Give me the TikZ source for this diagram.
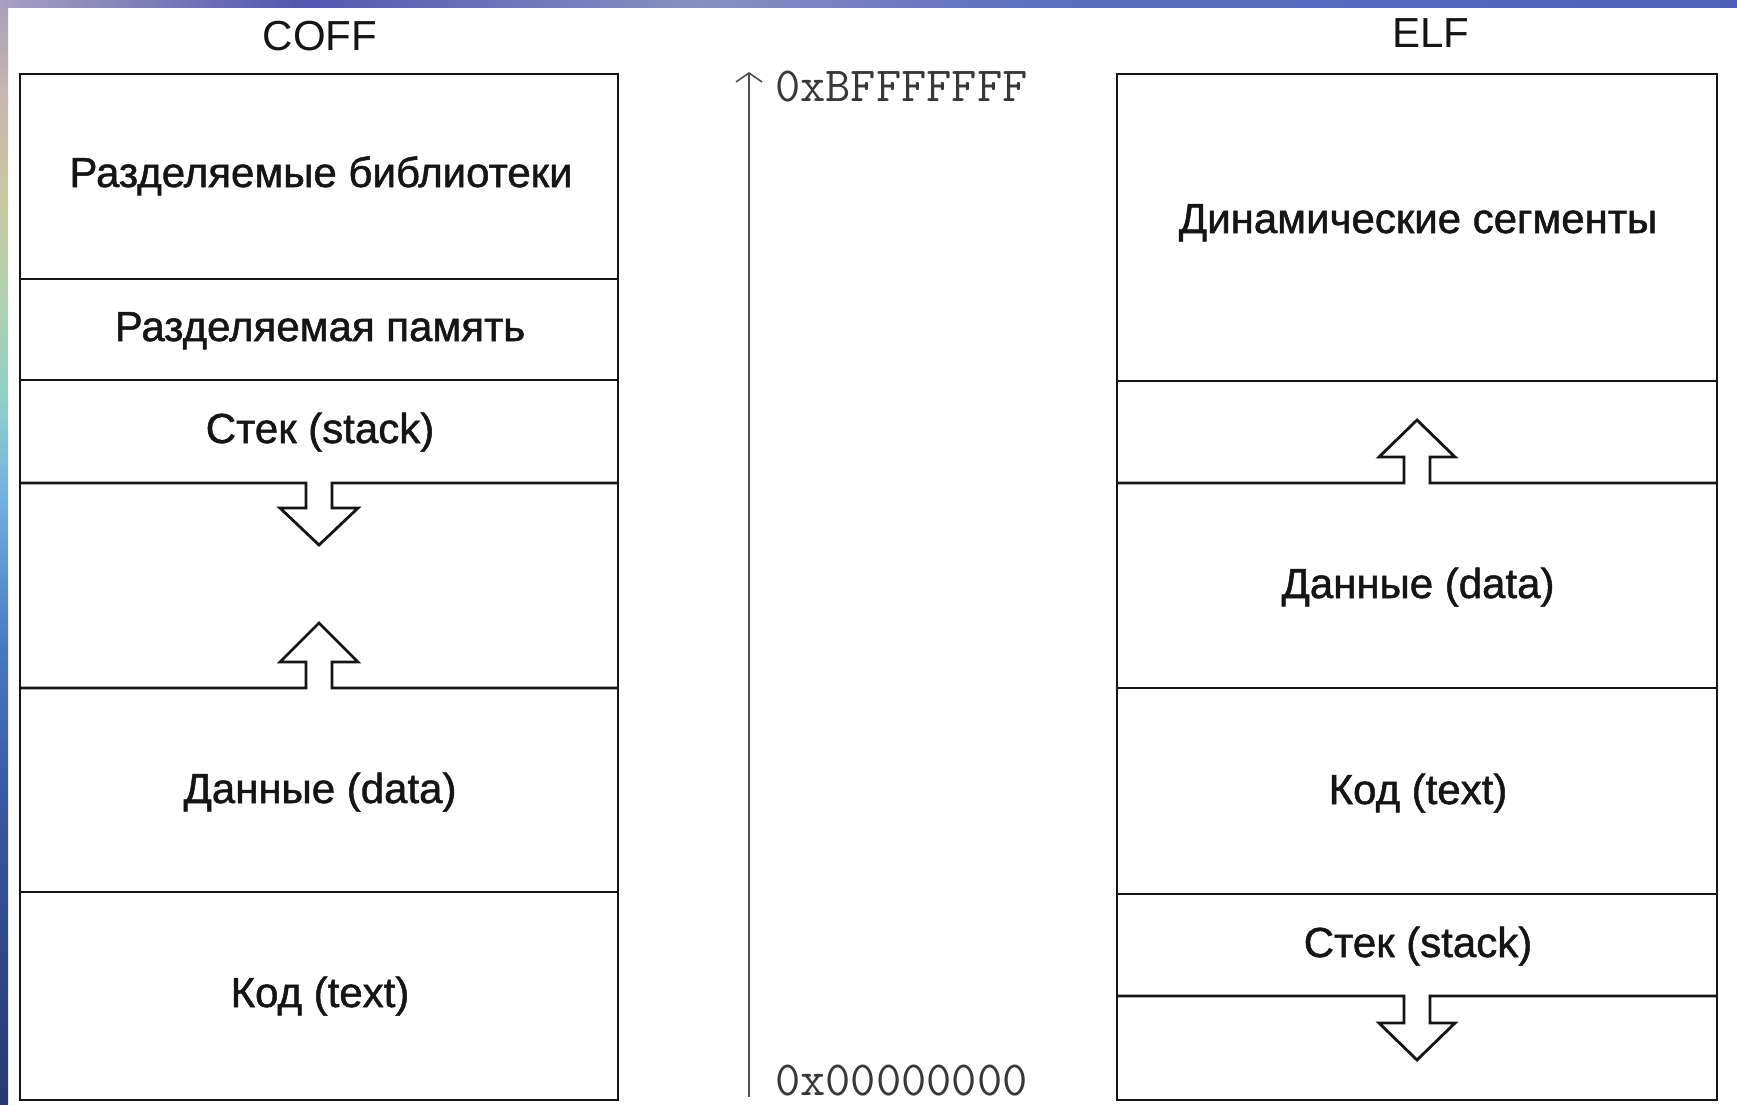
\documentclass[tikz,border=0pt]{standalone}
\usepackage{fontspec}
\setmainfont{Liberation Sans}
\newfontfamily\segfont[FakeBold=1.2]{Liberation Sans}
\usetikzlibrary{arrows.meta}

% slide background tints
\definecolor{sbA}{HTML}{A8A0B8}
\definecolor{sbB}{HTML}{C8B8B0}
\definecolor{sbC}{HTML}{C8C8A0}
\definecolor{sbD}{HTML}{B0D0B0}
\definecolor{sbE}{HTML}{90D0C8}
\definecolor{sbF}{HTML}{70B0E0}
\definecolor{sbG}{HTML}{4878C0}
\definecolor{sbH}{HTML}{3858A0}
\definecolor{sbI}{HTML}{283870}
\definecolor{tbA}{HTML}{A8A0C0}
\definecolor{tbB}{HTML}{5058B0}
\definecolor{tbC}{HTML}{8890C0}
\definecolor{tbD}{HTML}{6070C0}
\definecolor{tbE}{HTML}{5060B8}
\definecolor{ink}{HTML}{151515}

\begin{document}
\begin{tikzpicture}[x=1pt,y=-1pt,
  frame/.style={line width=2.8pt, draw=ink, line join=miter},
  seglabel/.style={font=\segfont\fontsize{42}{42}\selectfont, text=ink, inner sep=0pt, anchor=base},
  coltitle/.style={font=\fontsize{42}{42}\selectfont, text=ink, inner sep=0pt, anchor=base},
  addr/.style={font=\ttfamily\fontsize{49}{49}\selectfont, text=ink!85, inner sep=0pt,
    text depth=0pt, anchor=base west},
  axisline/.style={line width=1.8pt, draw=ink!75}]
\useasboundingbox (0,0) rectangle (1737,1104);
\fill[white] (0,0) rectangle (1737,1104);

% left background strip
\shade[top color=sbA, bottom color=sbB] (0,0) rectangle (8,100.5);
\shade[top color=sbB, bottom color=sbC] (0,100) rectangle (8,200.5);
\shade[top color=sbC, bottom color=sbD] (0,200) rectangle (8,300.5);
\shade[top color=sbD, bottom color=sbE] (0,300) rectangle (8,400.5);
\shade[top color=sbE, bottom color=sbF] (0,400) rectangle (8,500.5);
\shade[top color=sbF, bottom color=sbG] (0,500) rectangle (8,650.5);
\shade[top color=sbG, bottom color=sbH] (0,650) rectangle (8,800.5);
\shade[top color=sbH, bottom color=sbI] (0,800) rectangle (8,1104);

% top background strip
\shade[left color=tbA, right color=tbB] (0,0) rectangle (300.5,7);
\shade[left color=tbB, right color=tbC] (300,0) rectangle (700.5,7);
\shade[left color=tbC, right color=tbD] (700,0) rectangle (1000.5,7);
\shade[left color=tbD, right color=tbE] (1000,0) rectangle (1737,7);

% ---------------- COFF ----------------
\node[coltitle] (cofft) at (320,50) {COFF};
\draw[frame] (20,74) rectangle (618,1100);
\draw[frame] (20,279) -- (618,279);
\draw[frame] (20,380) -- (618,380);
% stack grows downward
\draw[frame] (20,483) -- (306,483) -- (306,508) -- (280,508) -- (319,545)
  -- (358,508) -- (332,508) -- (332,483) -- (618,483);
% data grows upward
\draw[frame] (20,688) -- (306,688) -- (306,662) -- (280,662) -- (319,623)
  -- (358,662) -- (332,662) -- (332,688) -- (618,688);
\draw[frame] (20,892) -- (618,892);

\node[seglabel] (cshlib) at (321,187) {Разделяемые библиотеки};
\node[seglabel] (cshmem) at (320,341) {Разделяемая память};
\node[seglabel] (cstack) at (320,443) {Стек (stack)};
\node[seglabel] (cdata)  at (320,803) {Данные (data)};
\node[seglabel] (ctext)  at (320,1007) {Код (text)};

% ---------------- address axis ----------------
\coordinate (abot) at (749,1097);
\coordinate (atop) at (749,72);
\draw[axisline, -{Straight Barb[length=9pt, width=26pt, line width=1.6pt]}] (abot) -- (atop);
\node[addr] (ahigh) at (775,101) {0xBFFFFFFF};
\node[addr] (alow)  at (775,1095) {0x00000000};

% ---------------- ELF ----------------
\node[coltitle] (elft) at (1431,47) {ELF};
\draw[frame] (1117,74) rectangle (1717,1100);
\draw[frame] (1117,381) -- (1717,381);
% dynamic segments grow upward
\draw[frame] (1117,483) -- (1404,483) -- (1404,457) -- (1379,457) -- (1417,420)
  -- (1455,457) -- (1430,457) -- (1430,483) -- (1717,483);
\draw[frame] (1117,688) -- (1717,688);
\draw[frame] (1117,894) -- (1717,894);
% stack grows downward
\draw[frame] (1117,996) -- (1404,996) -- (1404,1023) -- (1379,1023) -- (1417,1060)
  -- (1455,1023) -- (1430,1023) -- (1430,996) -- (1717,996);

\node[seglabel] (edyn)   at (1418,233) {Динамические сегменты};
\node[seglabel] (edata)  at (1418,598) {Данные (data)};
\node[seglabel] (etext)  at (1418,804) {Код (text)};
\node[seglabel] (estack) at (1418,957) {Стек (stack)};
\end{tikzpicture}
\end{document}
